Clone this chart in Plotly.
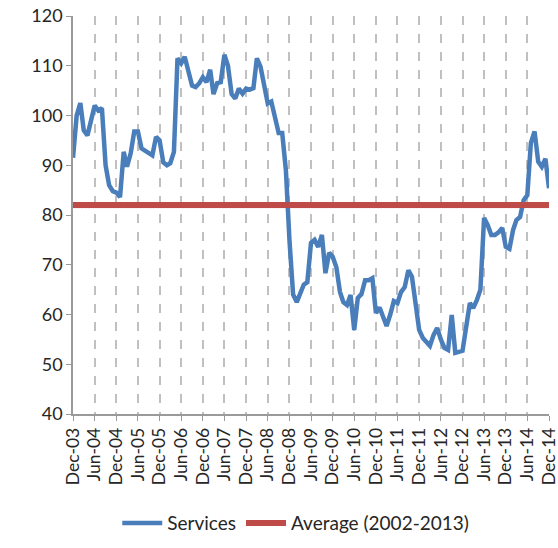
import pandas as pd
import plotly.graph_objects as go

# monthly index, Dec-03 .. Dec-14
months = pd.date_range("2003-12-01", "2014-12-01", freq="MS")

services = [
    91.5, 100.0, 102.5, 97.0, 96.0, 99.5, 102.0, 101.0, 101.5, 90.0,   # Dec-03..Sep-04
    86.0, 84.8, 84.5, 83.6, 92.7, 89.7, 92.4, 96.8, 96.8, 93.4,        # Oct-04..Jul-05
    93.0, 92.4, 92.0, 95.7, 95.0, 90.6, 90.0, 90.4, 92.7, 111.5,       # Aug-05..May-06
    110.5, 111.8, 109.0, 106.0, 105.7, 106.5, 107.7, 106.7, 109.2, 104.3,  # Jun-06..Mar-07
    106.5, 106.7, 112.2, 110.0, 104.3, 103.4, 105.4, 104.4, 105.4, 105.2,  # Apr-07..Jan-08
    105.5, 111.5, 109.8, 106.4, 102.4, 102.8, 99.7, 96.5, 96.5, 89.0,  # Feb-08..Nov-08
    75.0, 64.0, 62.5, 64.0, 66.0, 66.5, 74.4, 75.0, 73.6, 76.0,        # Dec-08..Sep-09
    68.3, 72.4, 71.6, 69.5, 64.5, 62.5, 61.9, 63.9, 56.9, 63.3,        # Oct-09..Jul-10
    64.1, 66.9, 66.9, 67.3, 60.3, 61.4, 59.5, 57.7, 60.0, 62.7,        # Aug-10..May-11
    62.3, 64.5, 65.5, 68.9, 67.6, 62.0, 56.9, 55.3, 54.5, 53.7,        # Jun-11..Mar-12
    55.9, 57.3, 55.0, 53.3, 52.9, 59.9, 52.3, 52.5, 52.7, 57.5,        # Apr-12..Jan-13
    62.3, 61.3, 62.9, 65.0, 79.4, 78.0, 76.0, 76.0, 76.5, 77.4,        # Feb-13..Nov-13
    73.6, 73.2, 77.0, 79.0, 79.6, 83.0, 84.0, 94.5, 96.8, 90.7,        # Dec-13..Sep-14
    89.7, 91.3, 85.4,                                                  # Oct-14..Dec-14
]

average_value = 82.0
average = [average_value] * len(months)

fig = go.Figure()

fig.add_trace(go.Scatter(
    x=months, y=services, mode="lines", name="Services",
    line=dict(color="#4a7ebb", width=4.5),
))
fig.add_trace(go.Scatter(
    x=months, y=average, mode="lines+markers", name="Average (2002-2013)",
    line=dict(color="#be4b48", width=6),
    marker=dict(symbol="square", size=6, color="#be4b48"),
))

fig.update_layout(
    width=558, height=548,
    margin=dict(l=73, r=9, t=16, b=134, autoexpand=False),
    paper_bgcolor="white", plot_bgcolor="white",
    font=dict(family="Lato, Open Sans, sans-serif", size=16, color="#262626"),
    showlegend=True,
    legend=dict(orientation="h", x=0.468, xanchor="center", y=-0.274, yanchor="middle",
                font=dict(size=19), itemwidth=40, tracegroupgap=0),
)

fig.update_xaxes(
    range=[months[0], months[-1]], automargin=False,
    tick0="2003-12-01", dtick="M6", tickformat="%b-%y", tickangle=-90,
    ticklabeloverflow="allow",
    showgrid=True, gridcolor="#c0c0c0", gridwidth=2, griddash="dash",
    showline=True, linecolor="#9a9a9a", linewidth=1.5,
    ticks="outside", ticklen=5, tickcolor="#9a9a9a",
    tickfont=dict(size=17.5),
)
fig.update_yaxes(
    range=[40, 120], dtick=10, automargin=False,
    showgrid=False, zeroline=False,
    showline=True, linecolor="#9a9a9a", linewidth=1.5,
    ticks="outside", ticklen=5, tickcolor="#9a9a9a",
    tickfont=dict(size=18),
)

# drop the browser's default body margin so the figure sits at the page corner
fig.write_html("out.html", config={"displayModeBar": False},
               post_script="document.body.style.margin='0';")
